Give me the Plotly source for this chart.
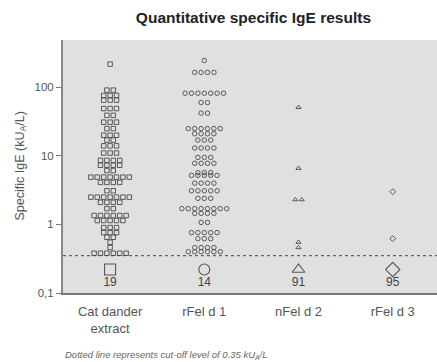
import numpy as np
import plotly.graph_objects as go

categories = ["Cat dander<br>extract", "rFel d 1", "nFel d 2", "rFel d 3"]
negative_pct = [19, 14, 91, 95]
symbols = ["square-open", "circle-open", "triangle-up-open", "diamond-open"]
cutoff = 0.35

# (value, count) rows
cat_dander = ([218]*1 + [91]*2 + [76]*3 + [65]*3 + [49]*3 + [39]*2 + [31]*3 + [25]*2 +
              [20]*3 + [17]*2 + [14]*3 + [11]*3 + [8.6]*4 + [7.3]*4 + [6.1]*2 + [4.9]*7 +
              [4.1]*4 + [3.1]*2 + [2.5]*7 + [2.1]*4 + [1.7]*2 + [1.35]*6 + [1.14]*5 +
              [0.9]*3 + [0.76]*3 + [0.65]*2 + [0.55]*1 + [0.46]*1 + [0.38]*6)
rfel_d1 = ([246]*1 + [165]*4 + [82]*7 + [60]*2 + [42]*2 + [25]*6 + [21]*4 + [17]*3 +
           [13]*4 + [9.5]*3 + [7.8]*4 + [5.7]*3 + [5.2]*5 + [4.0]*4 + [3.1]*5 + [2.4]*3 +
           [1.7]*8 + [1.45]*4 + [1.07]*2 + [0.76]*5 + [0.62]*3 + [0.46]*4 + [0.40]*6)
nfel_d2 = [51, 6.6, 2.3, 2.3, 0.55, 0.46]
rfel_d3 = [3.0, 0.62]
series = [cat_dander, rfel_d1, nfel_d2, rfel_d3]

SPACING = 0.068  # horizontal spacing between points in a row (category units)


def row_layout(values, center):
    vals = np.asarray(values, dtype=float)
    keys = np.round(np.log10(vals), 2)
    xs = np.zeros_like(vals)
    for k in np.unique(keys):
        idx = np.where(keys == k)[0]
        n = len(idx)
        offs = (np.arange(n) - (n - 1) / 2.0) * SPACING
        xs[idx] = center + offs
    return xs, vals


fig = go.Figure()
for i, vals in enumerate(series):
    xs, ys = row_layout(vals, i)
    fig.add_trace(go.Scatter(
        x=xs, y=ys, mode="markers",
        marker=dict(symbol=symbols[i], size=4.5, color="#4a4a4a",
                    line=dict(width=0.9, color="#4a4a4a")),
        showlegend=False, hoverinfo="y"))

# big symbols + percentage below cut-off
fig.add_trace(go.Scatter(
    x=list(range(4)), y=[0.22]*4, mode="markers",
    marker=dict(symbol=symbols, size=11, color="#555",
                line=dict(width=1.1, color="#555")),
    showlegend=False, hoverinfo="skip"))
fig.add_trace(go.Scatter(
    x=list(range(4)), y=[0.138]*4, mode="text",
    text=[str(p) for p in negative_pct],
    textfont=dict(size=12, color="#444", family="Liberation Sans, Arial"),
    showlegend=False, hoverinfo="skip"))

# cut-off line
fig.add_shape(type="line", xref="x", yref="y", x0=-0.5, x1=3.5, y0=cutoff, y1=cutoff,
              line=dict(color="#444", width=1, dash="dot"))

fig.update_layout(
    width=437, height=362,
    margin=dict(l=63, r=0, t=40, b=69),
    paper_bgcolor="white", plot_bgcolor="#e0e0e0",
    font=dict(family="Liberation Sans, Arial", color="#555", size=12),
    title=dict(text="<b>Quantitative specific IgE results</b>", x=0.58, xanchor="center",
               y=1 - 18/362, yanchor="middle",
               font=dict(size=15.5, color="#222")),
)
fig.update_xaxes(range=[-0.5, 3.47], tickvals=list(range(4)), ticktext=categories,
                 showgrid=False, zeroline=False, showline=True, linecolor="#777", linewidth=2,
                 ticks="", tickfont=dict(size=13, color="#555"), ticklabelstandoff=5)
fig.update_yaxes(type="log", range=[-1, 2.69], tickvals=[0.1, 1, 10, 100],
                 ticktext=["0,1", "1", "10", "100"],
                 showgrid=False, zeroline=False, showline=True, linecolor="#888", linewidth=2,
                 ticks="outside", ticklen=5, tickcolor="#777",
                 tickfont=dict(size=11.5, color="#555"))

fig.add_annotation(text="Specific IgE (kU<sub>A</sub>/L)", xref="paper", yref="paper",
                   x=-43/374, y=0.5, textangle=-90, showarrow=False,
                   xanchor="center", yanchor="middle",
                   font=dict(size=12.5, color="#555"))
fig.add_annotation(text="<i>Dotted line represents cut-off level of 0.35 kU<sub>A</sub>/L</i>",
                   xref="paper", yref="paper", x=0, y=-(355-293)/253,
                   xanchor="left", yanchor="middle", showarrow=False,
                   font=dict(size=9.5, color="#666"))

fig.write_html("out.html")
